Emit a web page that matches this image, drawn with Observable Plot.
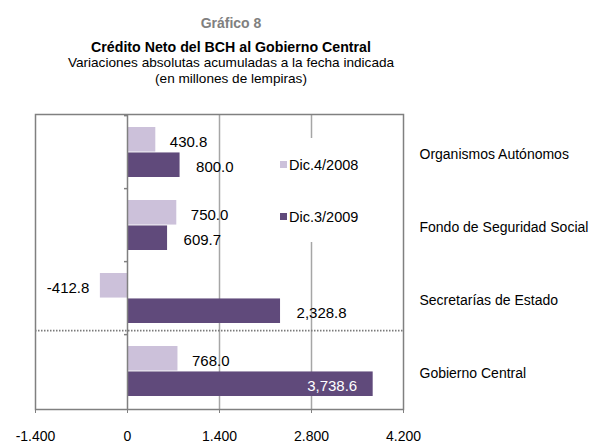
<!DOCTYPE html>
<html><head><meta charset="utf-8">
<script src="https://cdn.jsdelivr.net/npm/d3@7"></script>
<script src="https://cdn.jsdelivr.net/npm/@observablehq/plot@0.6"></script>
<style>
body{margin:0;background:#fff;font-family:"Liberation Sans",Arial,sans-serif;color:#000;}
#wrap{position:relative;width:611px;height:443px;overflow:hidden;background:#fff;}
.t{position:absolute;left:0;width:462px;text-align:center;white-space:nowrap;line-height:16px;}
#legend{position:absolute;background:#fff;}
.li{position:absolute;white-space:nowrap;font-size:14.5px;line-height:16px;}
.sw{position:absolute;width:7px;height:7px;}
</style></head><body>
<div id="wrap">
<div class="t" style="top:15px;font-weight:bold;color:#808080;font-size:14px;">Gráfico 8</div>
<div class="t" style="top:39px;font-weight:bold;font-size:14.2px;">Crédito Neto del BCH al Gobierno Central</div>
<div class="t" style="top:55px;font-size:13.6px;">Variaciones absolutas acumuladas a la fecha indicada</div>
<div class="t" style="top:71px;font-size:13.6px;">(en millones de lempiras)</div>
<div id="chart" style="position:absolute;left:0;top:96px"></div>
<div id="legend" style="left:272px;top:138px;width:96px;height:104px;"></div>
</div>
<script>
const categories = ["Organismos Autónomos", "Fondo de Seguridad Social", "Secretarías de Estado", "Gobierno Central"];
const seriesNames = ["Dic.4/2008", "Dic.3/2009"];
const values2008 = [430.8, 750.0, -412.8, 768.0];
const values2009 = [800.0, 609.7, 2328.8, 3738.6];
const xTicks = [-1400, 0, 1400, 2800, 4200];
const xTickLabels = ["-1.400", "0", "1.400", "2.800", "4.200"];
const colors = ["#ccc1da", "#604a7b"];

const light = categories.map((c, i) => ({cat: c, series: seriesNames[0], value: values2008[i]}));
const dark = categories.map((c, i) => ({cat: c, series: seriesNames[1], value: values2009[i]}));

const W = 611, H = 347, mT = 18, mB = 34, mL = 35, mR = 208;
const plotH = H - mT - mB;
const pIn = 0.31, pOut = 0.155;
const step = plotH / (categories.length - pIn + 2 * pOut);
const bw = step * (1 - pIn);

const fmt = d3.formatLocale({decimal: ".", thousands: ",", grouping: [3], currency: ["", ""], minus: "-"}).format(",.1f");
const xMax = 4200;
const fitsOutside = d => d.value < xMax * 0.7;

const chart = Plot.plot({
  width: W, height: H, marginTop: mT, marginBottom: mB, marginLeft: mL, marginRight: mR,
  style: {fontFamily: "Liberation Sans, Arial, sans-serif", fontSize: "14px", color: "#000", background: "transparent", overflow: "visible"},
  x: {domain: [-1400, 4200]},
  y: {type: "band", domain: categories, paddingInner: pIn, paddingOuter: pOut},
  color: {domain: seriesNames, range: colors},
  marks: [
    Plot.ruleX([1400, 2800], {stroke: "#a6a6a6", strokeWidth: 1.5}),
    Plot.barX(light, {x: "value", y: "cat", fill: "series", insetBottom: bw / 2}),
    Plot.barX(dark, {x: "value", y: "cat", fill: "series", insetTop: bw / 2}),
    Plot.ruleX([0], {stroke: "#808080", strokeWidth: 1.5}),
    Plot.ruleY(categories, {x1: -46, x2: 0, dy: -step / 2, stroke: "#808080", strokeWidth: 1.5}),
    Plot.ruleY([categories[3]], {dy: -(step / 2 + 4), stroke: "#7a7a7a", strokeWidth: 1.8, strokeDasharray: "1.5,1.5"}),
    Plot.frame({stroke: "#808080", strokeWidth: 1.5}),
    Plot.axisX({ticks: xTicks, tickFormat: d => xTickLabels[xTicks.indexOf(d)], tickSize: 4, tickPadding: 18, stroke: "#808080", fill: "#000", fontSize: 14, label: null}),
    Plot.axisY({anchor: "right", tickSize: 0, tickPadding: 16, fontSize: 14, fill: "#000", label: null, dy: 2}),
    Plot.text(light.filter(d => d.value >= 0), {x: "value", y: "cat", text: d => fmt(d.value), textAnchor: "start", dx: 14, dy: -bw / 4 + 2, fontSize: 15, fill: "#000"}),
    Plot.text(light.filter(d => d.value < 0), {x: "value", y: "cat", text: d => fmt(d.value), textAnchor: "end", dx: -11, dy: -bw / 4 + 2, fontSize: 15, fill: "#000"}),
    Plot.text(dark.filter(fitsOutside), {x: "value", y: "cat", text: d => fmt(d.value), textAnchor: "start", dx: 16, dy: bw / 4 + 2, fontSize: 15, fill: "#000"}),
    Plot.text(dark.filter(d => !fitsOutside(d)), {x: "value", y: "cat", text: d => fmt(d.value), textAnchor: "end", dx: -16, dy: bw / 4 + 2, fontSize: 15, fill: "#fff"})
  ]
});
document.getElementById("chart").appendChild(chart);

const legend = document.getElementById("legend");
seriesNames.forEach((s, i) => {
  const sw = document.createElement("div");
  sw.className = "sw";
  sw.style.background = colors[i];
  sw.style.left = "8px";
  sw.style.top = (23 + i * 52) + "px";
  legend.appendChild(sw);
  const t = document.createElement("div");
  t.className = "li";
  t.textContent = s;
  t.style.left = "17px";
  t.style.top = (19 + i * 52) + "px";
  legend.appendChild(t);
});
</script>
</body></html>
